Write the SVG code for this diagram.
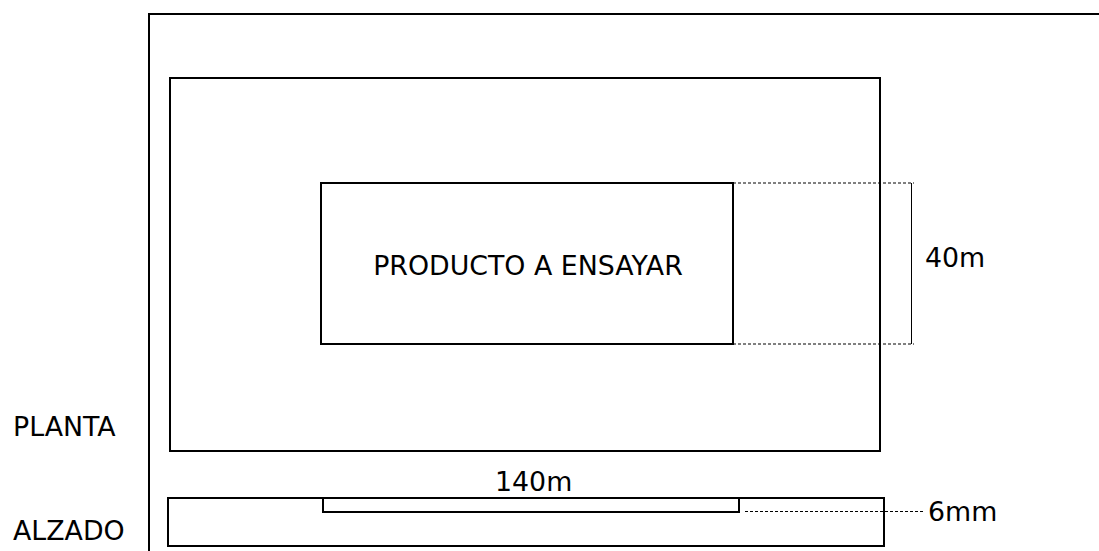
<svg xmlns="http://www.w3.org/2000/svg" width="1099" height="551" viewBox="0 0 1099 551">
<style>
.box{fill:none;stroke:#000;stroke-width:2}
.dash{fill:none;stroke:#000;stroke-width:1;stroke-dasharray:3,2}
.dim{fill:none;stroke:#000;stroke-width:1}
text{font-family:"DejaVu Sans",Verdana,sans-serif;font-size:26.8px;fill:#000}
</style>
<rect width="1099" height="551" fill="#fff"/>
<g id="frame"><polyline class="box" points="149,551 149,14 1099,14"/></g>
<g id="planta"><rect class="box" x="170" y="78" width="710" height="373"/></g>
<g id="producto"><rect class="box" x="321" y="183" width="412" height="161"/><text x="528" y="275" text-anchor="middle">PRODUCTO A ENSAYAR</text></g>
<g id="alzado"><rect class="box" x="168" y="498" width="716" height="48"/></g>
<g id="producto-alzado"><rect class="box" x="323" y="498" width="416" height="14"/></g>
<g id="connectors">
<line class="dash" x1="733" y1="183" x2="914" y2="183"/>
<line class="dash" x1="733" y1="344" x2="914" y2="344"/>
<line class="dim" x1="911.5" y1="183" x2="911.5" y2="344"/>
<line class="dash" x1="745" y1="511.5" x2="923" y2="511.5"/>
</g>
<g id="labels">
<text x="925" y="267">40m</text>
<text x="495" y="491">140m</text>
<text x="928" y="521">6mm</text>
<text x="13" y="436">PLANTA</text>
<text x="13" y="540">ALZADO</text>
</g>
</svg>
